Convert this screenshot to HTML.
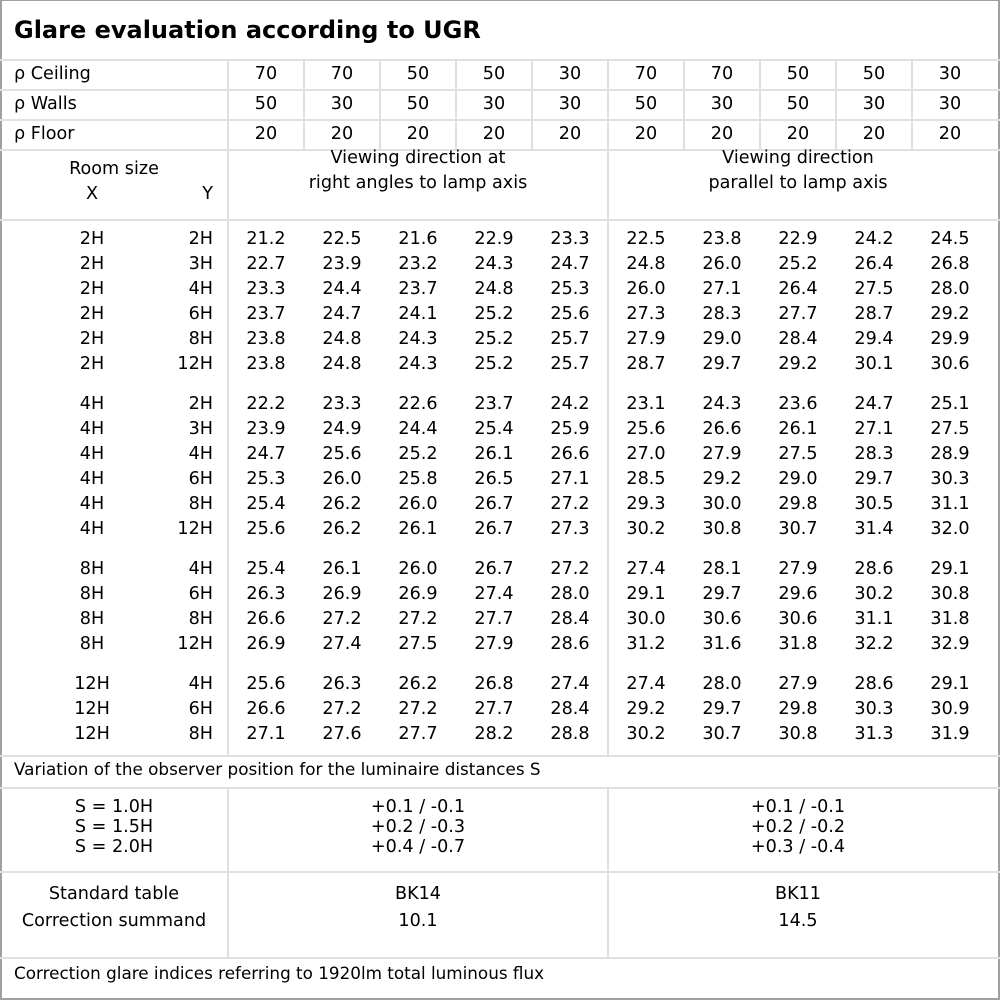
<!DOCTYPE html>
<html><head><meta charset="utf-8"><style>
*{margin:0;padding:0;box-sizing:border-box}
body{width:1000px;height:1000px;background:#fff;position:relative;overflow:hidden;font-family:"DejaVu Sans","Liberation Sans",sans-serif;font-size:17.6px;color:#000}
.b{position:absolute;left:0;top:0;width:1000px;height:1000px;border:2px solid #a0a0a0;border-top:1px solid #a0a0a0}
.h{position:absolute;left:0;width:1000px;height:2px;background:#e0e0e0}
.v{position:absolute;width:2px;background:#e0e0e0}
.t{position:absolute;white-space:nowrap;line-height:20px}
.r{position:absolute;left:0;width:1000px;height:25px;line-height:25px}
.r span{position:absolute;top:0;text-align:center;width:76px;white-space:nowrap}
.r span.x{left:52px;width:80px}
.r span.y{left:133px;width:80px;text-align:right}
</style></head><body>
<div class="b"></div>
<div class="t" style="left:14px;top:16px;font-size:24px;font-weight:bold;line-height:28px">Glare evaluation according to UGR</div>
<div class="h" style="top:59px"></div>
<div class="h" style="top:89px"></div>
<div class="h" style="top:119px"></div>
<div class="h" style="top:149px"></div>
<div class="h" style="top:219px"></div>
<div class="h" style="top:755px"></div>
<div class="h" style="top:787px"></div>
<div class="h" style="top:871px"></div>
<div class="h" style="top:957px"></div>
<div class="v" style="left:227px;top:60px;height:695px"></div>
<div class="v" style="left:227px;top:788px;height:170px"></div>
<div class="v" style="left:607px;top:150px;height:605px"></div>
<div class="v" style="left:607px;top:788px;height:170px"></div>
<div class="v" style="left:303px;top:60px;height:90px"></div>
<div class="v" style="left:379px;top:60px;height:90px"></div>
<div class="v" style="left:455px;top:60px;height:90px"></div>
<div class="v" style="left:531px;top:60px;height:90px"></div>
<div class="v" style="left:607px;top:60px;height:90px"></div>
<div class="v" style="left:683px;top:60px;height:90px"></div>
<div class="v" style="left:759px;top:60px;height:90px"></div>
<div class="v" style="left:835px;top:60px;height:90px"></div>
<div class="v" style="left:911px;top:60px;height:90px"></div>

<div class="r" style="top:62px"><span style="left:14px;width:200px;text-align:left">ρ Ceiling</span><span style="left:228px">70</span><span style="left:304px">70</span><span style="left:380px">50</span><span style="left:456px">50</span><span style="left:532px">30</span><span style="left:608px">70</span><span style="left:684px">70</span><span style="left:760px">50</span><span style="left:836px">50</span><span style="left:912px">30</span></div>
<div class="r" style="top:92px"><span style="left:14px;width:200px;text-align:left">ρ Walls</span><span style="left:228px">50</span><span style="left:304px">30</span><span style="left:380px">50</span><span style="left:456px">30</span><span style="left:532px">30</span><span style="left:608px">50</span><span style="left:684px">30</span><span style="left:760px">50</span><span style="left:836px">30</span><span style="left:912px">30</span></div>
<div class="r" style="top:122px"><span style="left:14px;width:200px;text-align:left">ρ Floor</span><span style="left:228px">20</span><span style="left:304px">20</span><span style="left:380px">20</span><span style="left:456px">20</span><span style="left:532px">20</span><span style="left:608px">20</span><span style="left:684px">20</span><span style="left:760px">20</span><span style="left:836px">20</span><span style="left:912px">20</span></div>

<div class="t" style="left:0;width:228px;top:159px;text-align:center">Room size</div>
<div class="t" style="left:52px;width:80px;top:184px;text-align:center">X</div>
<div class="t" style="left:133px;width:80px;top:184px;text-align:right">Y</div>
<div class="t" style="left:228px;width:380px;top:146px;text-align:center;line-height:25px">Viewing direction at<br>right angles to lamp axis</div>
<div class="t" style="left:608px;width:380px;top:146px;text-align:center;line-height:25px">Viewing direction<br>parallel to lamp axis</div>

<div class="r" style="top:227px"><span class="x">2H</span><span class="y">2H</span><span style="left:228px">21.2</span><span style="left:304px">22.5</span><span style="left:380px">21.6</span><span style="left:456px">22.9</span><span style="left:532px">23.3</span><span style="left:608px">22.5</span><span style="left:684px">23.8</span><span style="left:760px">22.9</span><span style="left:836px">24.2</span><span style="left:912px">24.5</span></div>
<div class="r" style="top:252px"><span class="x">2H</span><span class="y">3H</span><span style="left:228px">22.7</span><span style="left:304px">23.9</span><span style="left:380px">23.2</span><span style="left:456px">24.3</span><span style="left:532px">24.7</span><span style="left:608px">24.8</span><span style="left:684px">26.0</span><span style="left:760px">25.2</span><span style="left:836px">26.4</span><span style="left:912px">26.8</span></div>
<div class="r" style="top:277px"><span class="x">2H</span><span class="y">4H</span><span style="left:228px">23.3</span><span style="left:304px">24.4</span><span style="left:380px">23.7</span><span style="left:456px">24.8</span><span style="left:532px">25.3</span><span style="left:608px">26.0</span><span style="left:684px">27.1</span><span style="left:760px">26.4</span><span style="left:836px">27.5</span><span style="left:912px">28.0</span></div>
<div class="r" style="top:302px"><span class="x">2H</span><span class="y">6H</span><span style="left:228px">23.7</span><span style="left:304px">24.7</span><span style="left:380px">24.1</span><span style="left:456px">25.2</span><span style="left:532px">25.6</span><span style="left:608px">27.3</span><span style="left:684px">28.3</span><span style="left:760px">27.7</span><span style="left:836px">28.7</span><span style="left:912px">29.2</span></div>
<div class="r" style="top:327px"><span class="x">2H</span><span class="y">8H</span><span style="left:228px">23.8</span><span style="left:304px">24.8</span><span style="left:380px">24.3</span><span style="left:456px">25.2</span><span style="left:532px">25.7</span><span style="left:608px">27.9</span><span style="left:684px">29.0</span><span style="left:760px">28.4</span><span style="left:836px">29.4</span><span style="left:912px">29.9</span></div>
<div class="r" style="top:352px"><span class="x">2H</span><span class="y">12H</span><span style="left:228px">23.8</span><span style="left:304px">24.8</span><span style="left:380px">24.3</span><span style="left:456px">25.2</span><span style="left:532px">25.7</span><span style="left:608px">28.7</span><span style="left:684px">29.7</span><span style="left:760px">29.2</span><span style="left:836px">30.1</span><span style="left:912px">30.6</span></div>

<div class="r" style="top:392px"><span class="x">4H</span><span class="y">2H</span><span style="left:228px">22.2</span><span style="left:304px">23.3</span><span style="left:380px">22.6</span><span style="left:456px">23.7</span><span style="left:532px">24.2</span><span style="left:608px">23.1</span><span style="left:684px">24.3</span><span style="left:760px">23.6</span><span style="left:836px">24.7</span><span style="left:912px">25.1</span></div>
<div class="r" style="top:417px"><span class="x">4H</span><span class="y">3H</span><span style="left:228px">23.9</span><span style="left:304px">24.9</span><span style="left:380px">24.4</span><span style="left:456px">25.4</span><span style="left:532px">25.9</span><span style="left:608px">25.6</span><span style="left:684px">26.6</span><span style="left:760px">26.1</span><span style="left:836px">27.1</span><span style="left:912px">27.5</span></div>
<div class="r" style="top:442px"><span class="x">4H</span><span class="y">4H</span><span style="left:228px">24.7</span><span style="left:304px">25.6</span><span style="left:380px">25.2</span><span style="left:456px">26.1</span><span style="left:532px">26.6</span><span style="left:608px">27.0</span><span style="left:684px">27.9</span><span style="left:760px">27.5</span><span style="left:836px">28.3</span><span style="left:912px">28.9</span></div>
<div class="r" style="top:467px"><span class="x">4H</span><span class="y">6H</span><span style="left:228px">25.3</span><span style="left:304px">26.0</span><span style="left:380px">25.8</span><span style="left:456px">26.5</span><span style="left:532px">27.1</span><span style="left:608px">28.5</span><span style="left:684px">29.2</span><span style="left:760px">29.0</span><span style="left:836px">29.7</span><span style="left:912px">30.3</span></div>
<div class="r" style="top:492px"><span class="x">4H</span><span class="y">8H</span><span style="left:228px">25.4</span><span style="left:304px">26.2</span><span style="left:380px">26.0</span><span style="left:456px">26.7</span><span style="left:532px">27.2</span><span style="left:608px">29.3</span><span style="left:684px">30.0</span><span style="left:760px">29.8</span><span style="left:836px">30.5</span><span style="left:912px">31.1</span></div>
<div class="r" style="top:517px"><span class="x">4H</span><span class="y">12H</span><span style="left:228px">25.6</span><span style="left:304px">26.2</span><span style="left:380px">26.1</span><span style="left:456px">26.7</span><span style="left:532px">27.3</span><span style="left:608px">30.2</span><span style="left:684px">30.8</span><span style="left:760px">30.7</span><span style="left:836px">31.4</span><span style="left:912px">32.0</span></div>

<div class="r" style="top:557px"><span class="x">8H</span><span class="y">4H</span><span style="left:228px">25.4</span><span style="left:304px">26.1</span><span style="left:380px">26.0</span><span style="left:456px">26.7</span><span style="left:532px">27.2</span><span style="left:608px">27.4</span><span style="left:684px">28.1</span><span style="left:760px">27.9</span><span style="left:836px">28.6</span><span style="left:912px">29.1</span></div>
<div class="r" style="top:582px"><span class="x">8H</span><span class="y">6H</span><span style="left:228px">26.3</span><span style="left:304px">26.9</span><span style="left:380px">26.9</span><span style="left:456px">27.4</span><span style="left:532px">28.0</span><span style="left:608px">29.1</span><span style="left:684px">29.7</span><span style="left:760px">29.6</span><span style="left:836px">30.2</span><span style="left:912px">30.8</span></div>
<div class="r" style="top:607px"><span class="x">8H</span><span class="y">8H</span><span style="left:228px">26.6</span><span style="left:304px">27.2</span><span style="left:380px">27.2</span><span style="left:456px">27.7</span><span style="left:532px">28.4</span><span style="left:608px">30.0</span><span style="left:684px">30.6</span><span style="left:760px">30.6</span><span style="left:836px">31.1</span><span style="left:912px">31.8</span></div>
<div class="r" style="top:632px"><span class="x">8H</span><span class="y">12H</span><span style="left:228px">26.9</span><span style="left:304px">27.4</span><span style="left:380px">27.5</span><span style="left:456px">27.9</span><span style="left:532px">28.6</span><span style="left:608px">31.2</span><span style="left:684px">31.6</span><span style="left:760px">31.8</span><span style="left:836px">32.2</span><span style="left:912px">32.9</span></div>

<div class="r" style="top:672px"><span class="x">12H</span><span class="y">4H</span><span style="left:228px">25.6</span><span style="left:304px">26.3</span><span style="left:380px">26.2</span><span style="left:456px">26.8</span><span style="left:532px">27.4</span><span style="left:608px">27.4</span><span style="left:684px">28.0</span><span style="left:760px">27.9</span><span style="left:836px">28.6</span><span style="left:912px">29.1</span></div>
<div class="r" style="top:697px"><span class="x">12H</span><span class="y">6H</span><span style="left:228px">26.6</span><span style="left:304px">27.2</span><span style="left:380px">27.2</span><span style="left:456px">27.7</span><span style="left:532px">28.4</span><span style="left:608px">29.2</span><span style="left:684px">29.7</span><span style="left:760px">29.8</span><span style="left:836px">30.3</span><span style="left:912px">30.9</span></div>
<div class="r" style="top:722px"><span class="x">12H</span><span class="y">8H</span><span style="left:228px">27.1</span><span style="left:304px">27.6</span><span style="left:380px">27.7</span><span style="left:456px">28.2</span><span style="left:532px">28.8</span><span style="left:608px">30.2</span><span style="left:684px">30.7</span><span style="left:760px">30.8</span><span style="left:836px">31.3</span><span style="left:912px">31.9</span></div>

<div class="t" style="left:14px;top:759px;font-size:16.8px">Variation of the observer position for the luminaire distances S</div>
<div class="t" style="left:0;width:228px;top:797px;text-align:center;line-height:20px">S = 1.0H<br>S = 1.5H<br>S = 2.0H</div>
<div class="t" style="left:228px;width:380px;top:797px;text-align:center;line-height:20px">+0.1 / -0.1<br>+0.2 / -0.3<br>+0.4 / -0.7</div>
<div class="t" style="left:608px;width:380px;top:797px;text-align:center;line-height:20px">+0.1 / -0.1<br>+0.2 / -0.2<br>+0.3 / -0.4</div>
<div class="t" style="left:0;width:228px;top:881px;text-align:center;line-height:27px">Standard table<br>Correction summand</div>
<div class="t" style="left:228px;width:380px;top:881px;text-align:center;line-height:27px">BK14<br>10.1</div>
<div class="t" style="left:608px;width:380px;top:881px;text-align:center;line-height:27px">BK11<br>14.5</div>
<div class="t" style="left:14px;top:963px;font-size:16.8px">Correction glare indices referring to 1920lm total luminous flux</div>
</body></html>
